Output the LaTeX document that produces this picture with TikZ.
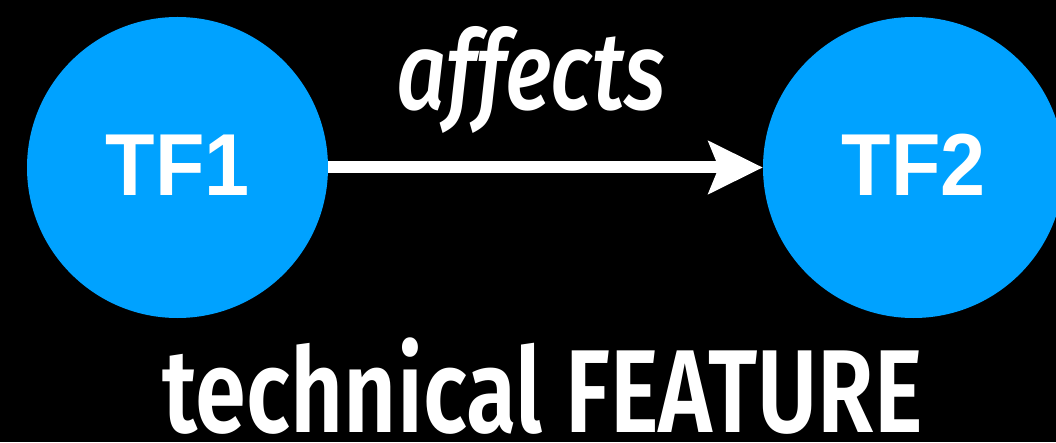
\documentclass[tikz,border=0pt]{standalone}
\usepackage{fontspec}
\setmainfont{Liberation Sans}
\newfontfamily\tffont[FakeStretch=0.92]{Liberation Sans Bold}
\newfontfamily\relfont[FakeStretch=0.8]{Fira Sans Medium Italic}
\newfontfamily\capfont[FakeStretch=0.78]{Fira Sans SemiBold}
\usetikzlibrary{arrows.meta}

\definecolor{tfblue}{RGB}{0,162,255}

\tikzset{
  tfnode/.style={circle, fill=tfblue, draw=none, minimum size=301pt, inner sep=0pt,
    text=white, font=\tffont\fontsize{88}{88}\selectfont},
  relarrow/.style={white, line width=12pt, -{Stealth[length=54pt,width=52pt,inset=10pt]}}
}

\begin{document}
\begin{tikzpicture}[x=1pt,y=1pt]
\fill[black] (0,0) rectangle (1056,442);
\useasboundingbox (0,0) rectangle (1056,442);

\node[tfnode] (tf1) at (177.5,274.5) {\raisebox{5pt}{TF1}};
\node[tfnode] (tf2) at (913.5,274.5) {\raisebox{5pt}{TF2}};

\draw[relarrow] (tf1) -- (tf2);

\node[anchor=base, text=white, inner sep=0pt, font=\relfont\fontsize{110}{110}\selectfont]
  (rel) at (531,332) {affects};
\node[anchor=base, text=white, inner sep=0pt, font=\capfont\fontsize{118}{118}\selectfont]
  (caption) at (542.5,10) {technical FEATURE};
\end{tikzpicture}
\end{document}
